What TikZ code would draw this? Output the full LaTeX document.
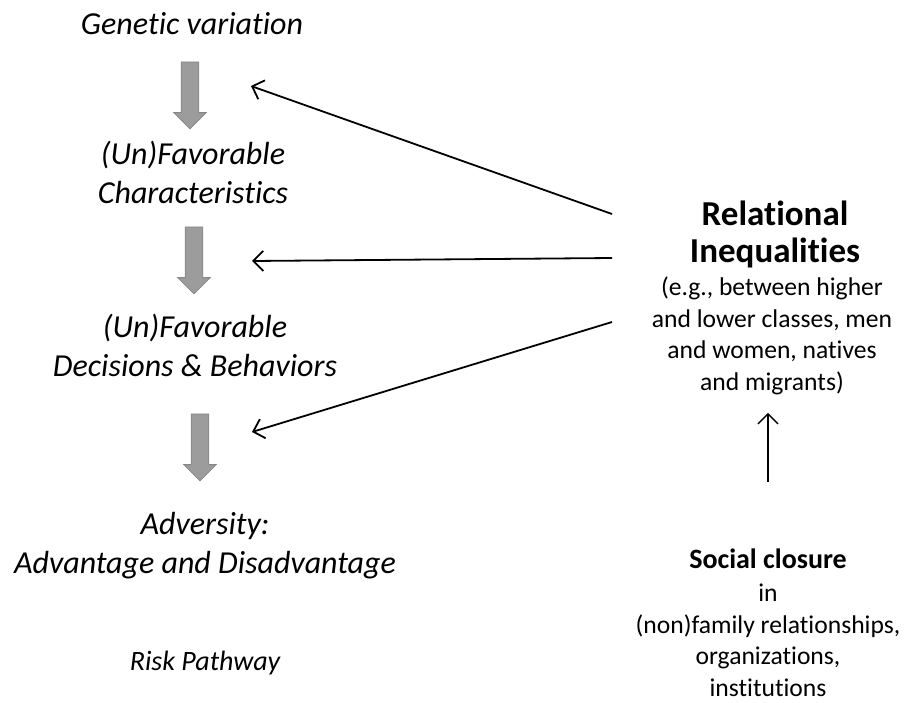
\documentclass[tikz,border=0pt]{standalone}
\usepackage{fontspec}
\setmainfont{Carlito}[Ligatures=NoCommon]
\usetikzlibrary{shapes.arrows,arrows.meta}

\tikzset{
  pathway/.style={font=\itshape\fontsize{16}{19.5}\selectfont,align=center,inner sep=0pt},
  heading/.style={font=\bfseries\fontsize{17.5}{18.5}\selectfont,align=center,inner sep=0pt},
  subhead/.style={font=\bfseries\fontsize{14}{16}\selectfont,align=center,inner sep=0pt},
  body/.style={font=\fontsize{12.8}{15.75}\selectfont,align=center,inner sep=0pt},
  flow/.style={single arrow,shape border rotate=270,draw=gray!95,fill=gray!78,
    minimum height=33.5pt,minimum width=16pt,inner sep=4.2pt,single arrow head extend=3.75pt},
  link/.style={->,line width=0.9pt},
}

\begin{document}
\begin{tikzpicture}[x=0.5pt,y=-0.5pt,>={Straight Barb[length=5pt,width=10pt]}]
\useasboundingbox (0,0) rectangle (905,702);

% risk pathway
\node[pathway,anchor=base] (gen)  at (192,34)  {Genetic variation};
\node[flow]                (f1)   at (190,91)  {};
\node[pathway,anchor=base] (char) at (193,203) {(Un)Favorable\\Characteristics};
\node[flow]                (f2)   at (194,256) {};
\node[pathway,anchor=base] (dec)  at (195,376) {(Un)Favorable\\Decisions \& Behaviors};
\node[flow]                (f3)   at (200,443) {};
\node[pathway,anchor=base] (adv)  at (205,573) {Adversity:\\Advantage and Disadvantage};
\node[pathway,anchor=base,font=\itshape\fontsize{14}{16}\selectfont] (risk) at (205,670) {Risk Pathway};

% relational inequalities
\node[heading,anchor=base] (rel)     at (775,262) {Relational\\Inequalities};
\node[body,anchor=base]    (relnote) at (772,390) {(e.g., between higher\\and lower classes, men\\and women, natives\\and migrants)};

% social closure
\node[subhead,anchor=base] (soc)     at (768,568) {Social closure};
\node[body,anchor=base]    (socnote) at (768,696) {in\\(non)family relationships,\\organizations,\\institutions};

\coordinate (out1) at (612,214);
\coordinate (out2) at (612,258);
\coordinate (out3) at (612,322);
\coordinate (in1)  at (251,86);
\coordinate (in2)  at (252,261);
\coordinate (in3)  at (252,432);

\draw[link] (out1) -- (in1);
\draw[link] (out2) -- (in2);
\draw[link] (out3) -- (in3);
\draw[link,line width=0.75pt,shorten <=33pt,shorten >=9pt] (soc.north) -- (soc.north |- relnote.south);
\end{tikzpicture}
\end{document}
